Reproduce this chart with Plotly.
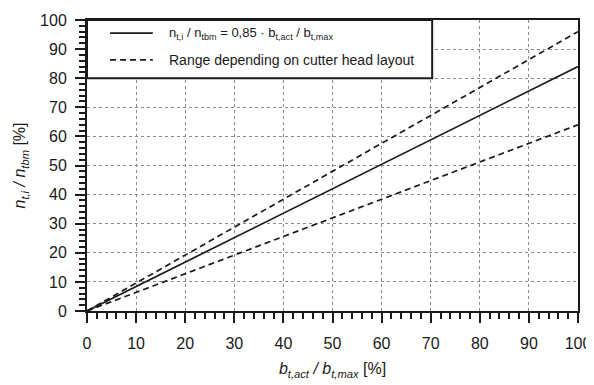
import plotly.graph_objects as go

x_vals = [0, 100]
mean_line = [0, 84]
upper_line = [0, 96]
lower_line = [0, 64]

legend_main = "n<sub>t,i</sub> / n<sub>tbm</sub> = 0,85 · b<sub>t,act</sub> / b<sub>t,max</sub>"
legend_range = "Range depending on cutter head layout"
x_title = "<i>b<sub>t,act</sub> / b<sub>t,max</sub></i> [%]"
y_title = "<i>n<sub>t,i</sub> / n<sub>tbm</sub></i> [%]"
ticks = list(range(0, 101, 10))

FONT = "Liberation Sans, Arial"
INK = "#1a1a1a"
DASH = "6px,4px"

fig = go.Figure()
fig.add_trace(go.Scatter(x=x_vals, y=mean_line, mode="lines", name=legend_main,
                         line=dict(color=INK, width=1.7)))
fig.add_trace(go.Scatter(x=x_vals, y=upper_line, mode="lines", name=legend_range,
                         line=dict(color=INK, width=1.7, dash=DASH)))
fig.add_trace(go.Scatter(x=x_vals, y=lower_line, mode="lines", name=legend_range,
                         line=dict(color=INK, width=1.7, dash=DASH)))

axis_common = dict(
    range=[0, 100], tickvals=ticks, showline=True, linecolor=INK, linewidth=2,
    mirror=True, ticks="outside", ticklen=10, tickwidth=2, tickcolor=INK,
    showgrid=True, gridcolor="#8a8a8a", griddash="dot", gridwidth=1.3,
    zeroline=False, automargin=False,
    minor=dict(dtick=2, ticks="outside", ticklen=6, tickwidth=1.5, tickcolor=INK, showgrid=False),
    tickfont=dict(family=FONT, size=16, color=INK),
)

fig.update_xaxes(**axis_common, ticklabelstandoff=7,
                 title=dict(text=x_title, standoff=12, font=dict(family=FONT, size=16, color=INK)))
fig.update_yaxes(**axis_common, ticklabelstandoff=5,
                 title=dict(text=y_title, standoff=10, font=dict(family=FONT, size=16, color=INK)))

# manual legend box (axis-anchored, like the reference)
leg_x1 = 70.3
rows_y = [95.5, 86.3]
names = [legend_main, legend_range]
dashes = ["solid", DASH]
sizes = [13, 14]
shapes = [dict(type="rect", xref="x", yref="y", x0=0, x1=leg_x1, y0=80, y1=100,
               fillcolor="white", line=dict(color=INK, width=2), layer="above")]
annotations = []
for yy, nm, ds, fs in zip(rows_y, names, dashes, sizes):
    shapes.append(dict(type="line", xref="x", yref="y", x0=4.7, x1=13.4, y0=yy, y1=yy,
                       line=dict(color=INK, width=1.7, dash=ds), layer="above"))
    annotations.append(dict(xref="x", yref="y", x=16.3, y=yy, text=nm, showarrow=False,
                            xanchor="left", yanchor="middle",
                            font=dict(family=FONT, size=fs, color=INK)))

# page body has an 8px margin: size/offset the figure so the plot lands where the reference has it
fig.update_layout(
    width=586, height=377,
    margin=dict(l=79, r=16, t=12, b=74),
    paper_bgcolor="white", plot_bgcolor="white",
    showlegend=False,
    shapes=shapes, annotations=annotations,
)

fig.write_html("out.html")
